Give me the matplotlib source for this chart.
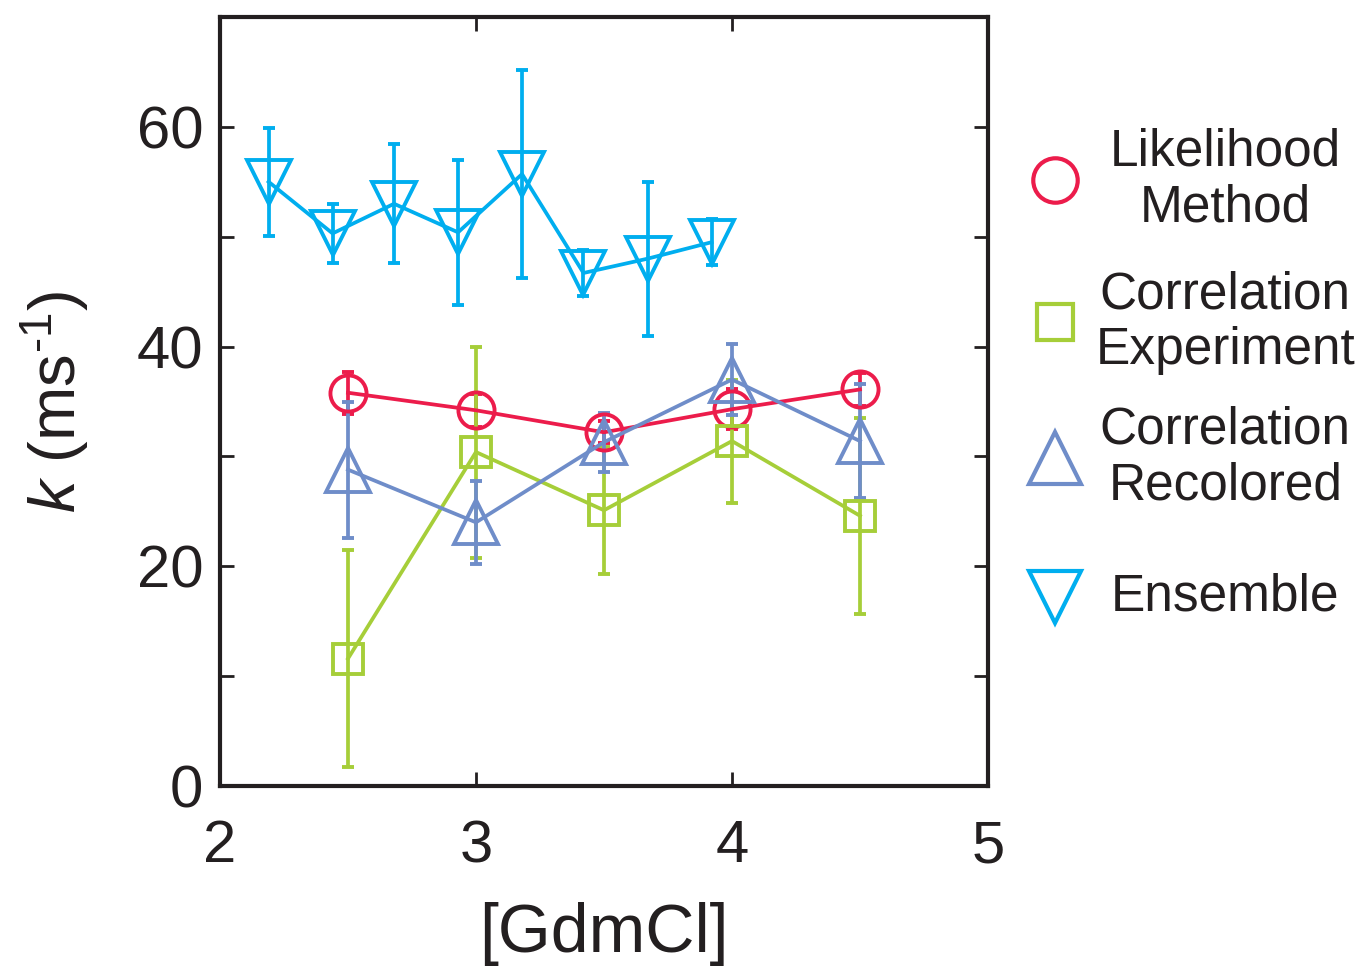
import matplotlib
matplotlib.use("Agg")
import matplotlib.pyplot as plt

# fonte tipo Arial
plt.rcParams['font.family'] = ['Liberation Sans', 'DejaVu Sans']
plt.rcParams['mathtext.fontset'] = 'custom'
plt.rcParams['mathtext.rm'] = 'Liberation Sans'
plt.rcParams['mathtext.it'] = 'Liberation Sans:italic'

#=============== DADOS ===============#
gdm = [2.5, 3.0, 3.5, 4.0, 4.5]

likelihood = [35.8, 34.2, 32.2, 34.3, 36.1]
likelihood_err = [1.9, 1.5, 1.0, 1.8, 1.5]

corr_exp = [11.6, 30.4, 25.1, 31.4, 24.6]
corr_exp_err = [9.9, 9.6, 5.8, 5.6, 8.9]

corr_recol = [28.8, 24.0, 31.3, 37.0, 31.4]
corr_recol_err = [6.2, 3.8, 2.7, 3.2, 5.2]

gdm_ensemble = [2.19, 2.44, 2.68, 2.93, 3.18, 3.42, 3.67, 3.92]
ensemble = [55.0, 50.3, 53.0, 50.4, 55.7, 46.7, 48.0, 49.5]
ensemble_err = [4.9, 2.7, 5.4, 6.6, 9.5, 2.1, 7.0, 2.1]

rotulos = ['Likelihood\nMethod', 'Correlation\nExperiment', 'Correlation\nRecolored', 'Ensemble']
cores = ['#EC1C4B', '#A6CE39', '#6F8DC9', '#00AEEF']
marcadores = ['o', 's', '^', 'v']
tam_plot = [26, 21, 31, 31]
tam_leg = [32, 26, 37, 37]

#=============== FIGURA ===============#
fig = plt.figure(figsize=(13.62, 9.66), dpi=100)
ax = fig.add_axes([0.1615, 0.1863, 0.5639, 0.7961])

series = [(gdm, likelihood, likelihood_err), (gdm, corr_exp, corr_exp_err),
          (gdm, corr_recol, corr_recol_err), (gdm_ensemble, ensemble, ensemble_err)]
for (x, y, err), cor, m, tam in zip(series, cores, marcadores, tam_plot):
    ax.errorbar(x, y, yerr=err, color=cor, ecolor=cor, lw=2.7, elinewidth=2.7,
                capsize=4.5, capthick=2.7, marker=m, ms=tam, mfc='none',
                mec=cor, mew=2.8)

ax.set_xlim(2, 5)
ax.set_ylim(0, 70)
ax.set_xticks([2, 3, 4, 5])
ax.set_yticks([0, 10, 20, 30, 40, 50, 60])
ax.set_yticklabels(['0', '', '20', '', '40', '', '60'])
ax.tick_params(direction='in', length=10, width=2.0, labelsize=43,
               top=True, right=True, colors='#231F20', labelcolor='#231F20')
ax.tick_params(axis='y', pad=12)
ax.tick_params(axis='x', pad=24)
for s in ax.spines.values():
    s.set_linewidth(3.0)
    s.set_color('#231F20')

ax.set_xlabel('[GdmCl]', fontsize=49, labelpad=20, color='#231F20')
ax.set_ylabel(r'$k$ (ms$^{\text{-}1}$)', fontsize=47, labelpad=32, color='#231F20')

# legenda (montada à mão para centralizar os textos)
leg_y = [0.788, 0.603, 0.4265, 0.2458]
for cor, m, tam, rot, yy in zip(cores, marcadores, tam_leg, rotulos, leg_y):
    ax.plot([1.087], [yy], transform=ax.transAxes, clip_on=False, ls='none',
            marker=m, ms=tam, mfc='none', mec=cor, mew=3.0)
    ax.text(1.309, yy, rot, transform=ax.transAxes, ha='center', va='center',
            multialignment='center', fontsize=37, linespacing=1.17, color='#231F20')

fig.savefig('out.png', dpi=100)
